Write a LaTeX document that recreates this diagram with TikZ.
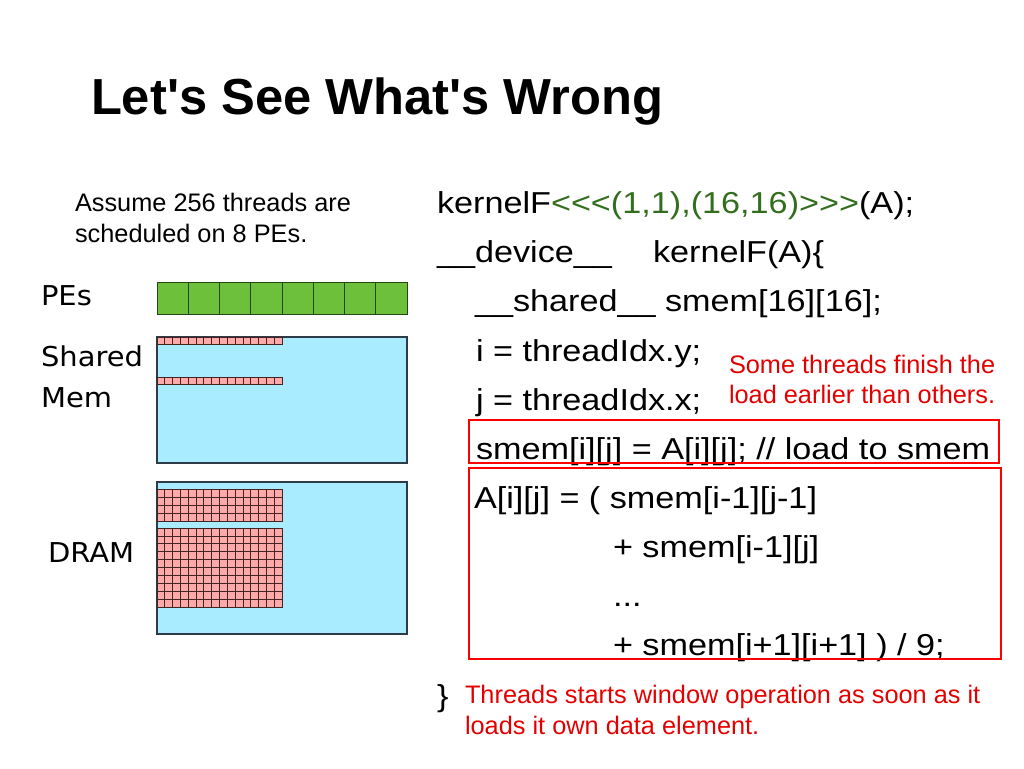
\documentclass[tikz,border=0pt]{standalone}
\usepackage{fontspec}
\setmainfont{Liberation Sans}[Ligatures=TeXOff]
\newfontfamily\labelfont{DejaVu Sans}
\usepackage{graphicx}
\definecolor{pegreen}{RGB}{108,192,58}
\definecolor{pedark}{RGB}{35,70,20}
\definecolor{memblue}{RGB}{170,236,255}
\definecolor{memdark}{RGB}{45,60,70}
\definecolor{cellpink}{RGB}{255,170,170}
\definecolor{celldark}{RGB}{70,35,35}
\definecolor{codegreen}{RGB}{50,110,30}
\definecolor{notered}{RGB}{228,0,0}
\newcommand{\wide}[1]{\scalebox{1.13}[1]{#1}}
\newcommand{\widelbl}[1]{\scalebox{1.06}[1]{#1}}

\begin{document}
\begin{tikzpicture}[x=0.75pt,y=-0.75pt,
  every node/.style={inner sep=0,outer sep=0,anchor=base west},
  code/.style={font=\fontsize{22.7}{27}\selectfont},
  note/.style={font=\fontsize{19}{23}\selectfont,text=notered},
  lbl/.style={font=\labelfont\fontsize{20.5}{24}\selectfont},
  pe/.style={fill=pegreen,draw=pedark,line width=0.75pt},
  mem/.style={fill=memblue,draw=memdark,line width=1pt},
  cell/.style={fill=cellpink,draw=celldark,line width=0.6pt},
  redbox/.style={draw=red,line width=1.5pt}]
	\useasboundingbox (0,0) rectangle (1024,768);
	\node (title) at (91,114) {\fontsize{38}{46}\selectfont\bfseries Let's See What's Wrong};
	\node[font=\fontsize{19}{23}\selectfont] (assume1) at (75,211) {Assume 256 threads are};
	\node[font=\fontsize{19}{23}\selectfont] (assume2) at (75,242) {scheduled on 8 PEs.};
	% hardware
	\node[lbl] (pes) at (41,305) {\widelbl{PEs}};
	\node[lbl] (shared) at (41,366) {\widelbl{Shared}};
	\node[lbl] (mem) at (41,407) {\widelbl{Mem}};
	\node[lbl] (dram) at (48,562) {\widelbl{DRAM}};
	\foreach \k in {0,...,7}
		\draw[pe] ({157+\k*31.25},282) rectangle ++(31.25,32);
	\draw[mem] (157,337) rectangle (407,463);
	\foreach \y in {337,377}
		\foreach \k in {0,...,15}
			\draw[cell] ({157+\k*7.8125},\y) rectangle ++(7.8125,7.5);
	\draw[mem] (157,482) rectangle (407,634);
	\foreach \r in {0,...,3}
		\foreach \k in {0,...,15}
			\draw[cell] ({157+\k*7.8125},{489+\r*8}) rectangle ++(7.8125,8);
	\foreach \r in {0,...,9}
		\foreach \k in {0,...,15}
			\draw[cell] ({157+\k*7.8125},{528+\r*7.9}) rectangle ++(7.8125,7.9);
	% code
	\node[code] (launch) at (437,213) {\wide{kernelF\textcolor{codegreen}{<<<(1,1),(16,16)>>>}(A);}};
	\node[code] (device) at (437,262) {\wide{\_\_device\_\_}};
	\node[code] (kname) at (653,262) {\wide{kernelF(A)\{}};
	\node[code] (smemdecl) at (475,311) {\wide{\_\_shared\_\_ smem[16][16];}};
	\node[code] (iidx) at (476,361) {\wide{i = threadIdx.y;}};
	\node[code] (jidx) at (476,410) {\wide{j = threadIdx.x;}};
	\node[code] (load) at (476,459) {\wide{smem[i][j] = A[i][j]; // load to smem}};
	\node[code] (win1) at (474,508) {\wide{A[i][j] = ( smem[i-1][j-1]}};
	\node[code] (win2) at (613,557) {\wide{+ smem[i-1][j]}};
	\node[code] (win3) at (613,606) {\wide{...}};
	\node[code] (win4) at (613,655) {\wide{+ smem[i+1][i+1] ) / 9;}};
	\node[code] (close) at (437,706) {\wide{\}}};
	\draw[redbox] (469,420) rectangle (999,463);
	\draw[redbox] (469,468) rectangle (1001,659);
	% remarks
	\node[note] (finish1) at (729,373) {Some threads finish the};
	\node[note] (finish2) at (729,403) {load earlier than others.};
	\node[note] (start1) at (465,703) {Threads starts window operation as soon as it};
	\node[note] (start2) at (465,734) {loads it own data element.};
\end{tikzpicture}
\end{document}
